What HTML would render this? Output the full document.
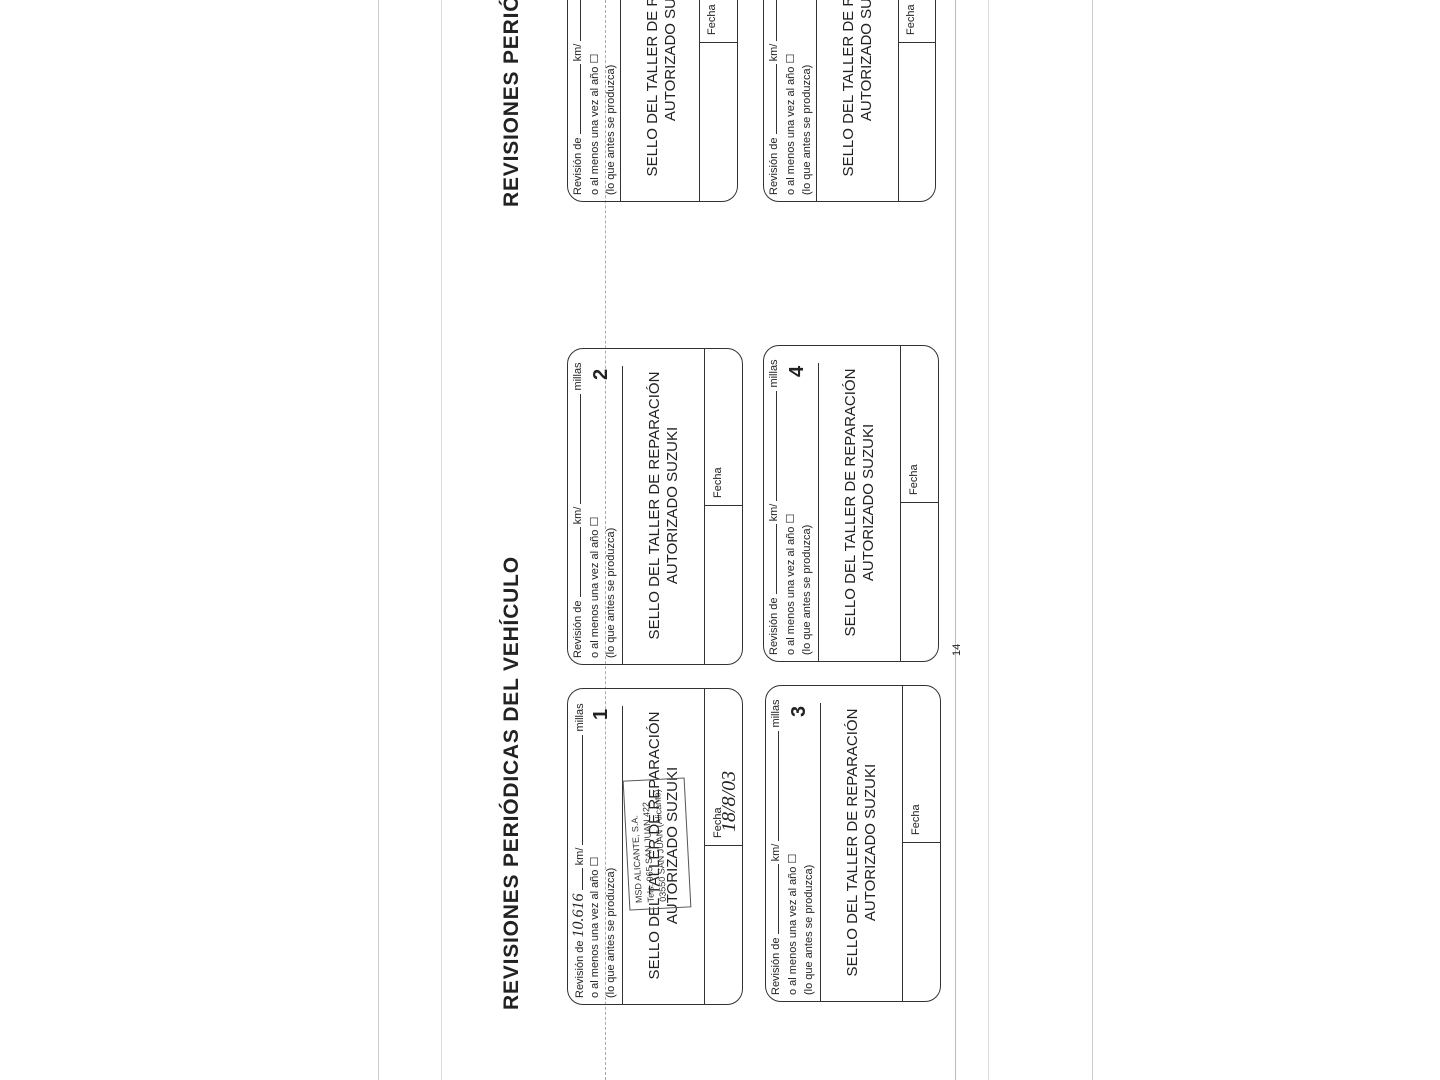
<!DOCTYPE html>
<html><head><meta charset="utf-8"><style>
html,body{margin:0;padding:0;background:#fff;}
body{width:1440px;height:1080px;position:relative;overflow:hidden;font-family:"Liberation Sans",sans-serif;color:#222;}
.r{position:absolute;transform-origin:0 0;transform:rotate(-90deg);}
.box{width:317px;height:176px;border:1.5px solid #333;border-radius:16px;box-sizing:border-box;}
.box .t{position:absolute;left:6px;font-size:11px;white-space:nowrap;line-height:13px;}
.box .hl{position:absolute;left:0;top:54px;width:298px;border-top:1.5px solid #333;}
.box .fl{position:absolute;left:0;right:0;top:136px;border-top:1.5px solid #333;}
.box .fd{position:absolute;left:158px;top:136px;bottom:0;border-left:1.5px solid #333;}
.box .fe{position:absolute;left:166px;top:144px;font-size:11px;}
.box .s{position:absolute;left:0;width:317px;top:78px;text-align:center;font-size:15px;line-height:18px;}
.box .n{position:absolute;left:284px;top:22px;font-size:20px;font-weight:bold;}
.title{font-weight:bold;font-size:21px;letter-spacing:0.8px;white-space:nowrap;}
.v{position:absolute;top:0;height:1080px;border-left:1px solid #ccc;}
</style></head><body>
<div class="v" style="left:378px"></div>
<div class="v" style="left:441px;border-color:#ddd"></div>
<div class="v" style="left:955px;border-color:#bbb"></div>
<div class="v" style="left:988px;border-color:#ddd"></div>
<div class="v" style="left:1092px;border-color:#ccc"></div>
<div class="v" style="left:605px;border-left:1px dashed #aaa"></div>

<div class="r title" style="left:500px;top:1010px;">REVISIONES PERIÓDICAS DEL VEHÍCULO</div>
<div class="r title" style="left:500px;top:207px;">REVISIONES PERIÓDICAS DEL VEHÍCULO</div>

<!-- box 1 -->
<div class="r box" style="left:567px;top:1005px;">
<div class="t" style="top:4px">Revisión de <span style="font-family:'Liberation Serif',serif;font-style:italic;font-size:16px">10.616</span> <span style="display:inline-block;width:22px;border-bottom:1px solid #333"></span> km/ <span style="display:inline-block;width:110px;border-bottom:1px solid #333"></span> millas</div>
<div class="t" style="top:21px">o al menos una vez al año ☐</div>
<div class="t" style="top:37px">(lo que antes se produzca)</div>
<div class="n">1</div><div class="hl"></div>
<div class="s">SELLO DEL TALLER DE REPARACIÓN<br>AUTORIZADO SUZUKI</div>
<div style="position:absolute;left:95px;top:58px;width:130px;height:62px;border:1.5px solid #555;transform:rotate(-3deg);font-size:9px;line-height:12px;padding:3px 6px;box-sizing:border-box;color:#333">MSD ALICANTE, S.A.<br>Tels. 965 SAN JUAN 422<br>03550 SAN JUAN (Alicante)</div>
<div class="fl"></div><div class="fd"></div><div class="fe">Fecha</div>
<div style="position:absolute;left:172px;top:150px;font-family:'Liberation Serif',serif;font-style:italic;font-size:20px">18/8/03</div>
</div>

<!-- box 2 -->
<div class="r box" style="left:567px;top:665px;">
<div class="t" style="top:4px">Revisión de <span style="display:inline-block;width:70px;border-bottom:1px solid #333"></span> km/ <span style="display:inline-block;width:110px;border-bottom:1px solid #333"></span> millas</div>
<div class="t" style="top:21px">o al menos una vez al año ☐</div>
<div class="t" style="top:37px">(lo que antes se produzca)</div>
<div class="n">2</div><div class="hl"></div>
<div class="s">SELLO DEL TALLER DE REPARACIÓN<br>AUTORIZADO SUZUKI</div>
<div class="fl"></div><div class="fd"></div><div class="fe">Fecha</div>
</div>

<!-- box 3 -->
<div class="r box" style="left:765px;top:1002px;">
<div class="t" style="top:4px">Revisión de <span style="display:inline-block;width:70px;border-bottom:1px solid #333"></span> km/ <span style="display:inline-block;width:110px;border-bottom:1px solid #333"></span> millas</div>
<div class="t" style="top:21px">o al menos una vez al año ☐</div>
<div class="t" style="top:37px">(lo que antes se produzca)</div>
<div class="n">3</div><div class="hl"></div>
<div class="s">SELLO DEL TALLER DE REPARACIÓN<br>AUTORIZADO SUZUKI</div>
<div class="fl"></div><div class="fd"></div><div class="fe">Fecha</div>
</div>

<!-- box 4 -->
<div class="r box" style="left:763px;top:662px;">
<div class="t" style="top:4px">Revisión de <span style="display:inline-block;width:70px;border-bottom:1px solid #333"></span> km/ <span style="display:inline-block;width:110px;border-bottom:1px solid #333"></span> millas</div>
<div class="t" style="top:21px">o al menos una vez al año ☐</div>
<div class="t" style="top:37px">(lo que antes se produzca)</div>
<div class="n">4</div><div class="hl"></div>
<div class="s">SELLO DEL TALLER DE REPARACIÓN<br>AUTORIZADO SUZUKI</div>
<div class="fl"></div><div class="fd"></div><div class="fe">Fecha</div>
</div>

<!-- box 5 (partial) -->
<div class="r box" style="left:567px;top:202px;height:171px;">
<div class="t" style="top:4px">Revisión de <span style="display:inline-block;width:70px;border-bottom:1px solid #333"></span> km/ <span style="display:inline-block;width:110px;border-bottom:1px solid #333"></span> millas</div>
<div class="t" style="top:21px">o al menos una vez al año ☐</div>
<div class="t" style="top:37px">(lo que antes se produzca)</div>
<div class="hl" style="top:52px"></div>
<div class="s" style="top:76px">SELLO DEL TALLER DE REPARACIÓN<br>AUTORIZADO SUZUKI</div>
<div class="fl" style="top:131px"></div><div class="fd" style="top:131px"></div><div class="fe" style="top:138px">Fecha</div>
</div>

<!-- box 6 (partial) -->
<div class="r box" style="left:763px;top:202px;height:173px;">
<div class="t" style="top:4px">Revisión de <span style="display:inline-block;width:70px;border-bottom:1px solid #333"></span> km/ <span style="display:inline-block;width:110px;border-bottom:1px solid #333"></span> millas</div>
<div class="t" style="top:21px">o al menos una vez al año ☐</div>
<div class="t" style="top:37px">(lo que antes se produzca)</div>
<div class="hl" style="top:52px"></div>
<div class="s" style="top:76px">SELLO DEL TALLER DE REPARACIÓN<br>AUTORIZADO SUZUKI</div>
<div class="fl" style="top:134px"></div><div class="fd" style="top:134px"></div><div class="fe" style="top:141px">Fecha</div>
</div>

<div class="r" style="left:951px;top:656px;font-size:11px;">14</div>
</body></html>
